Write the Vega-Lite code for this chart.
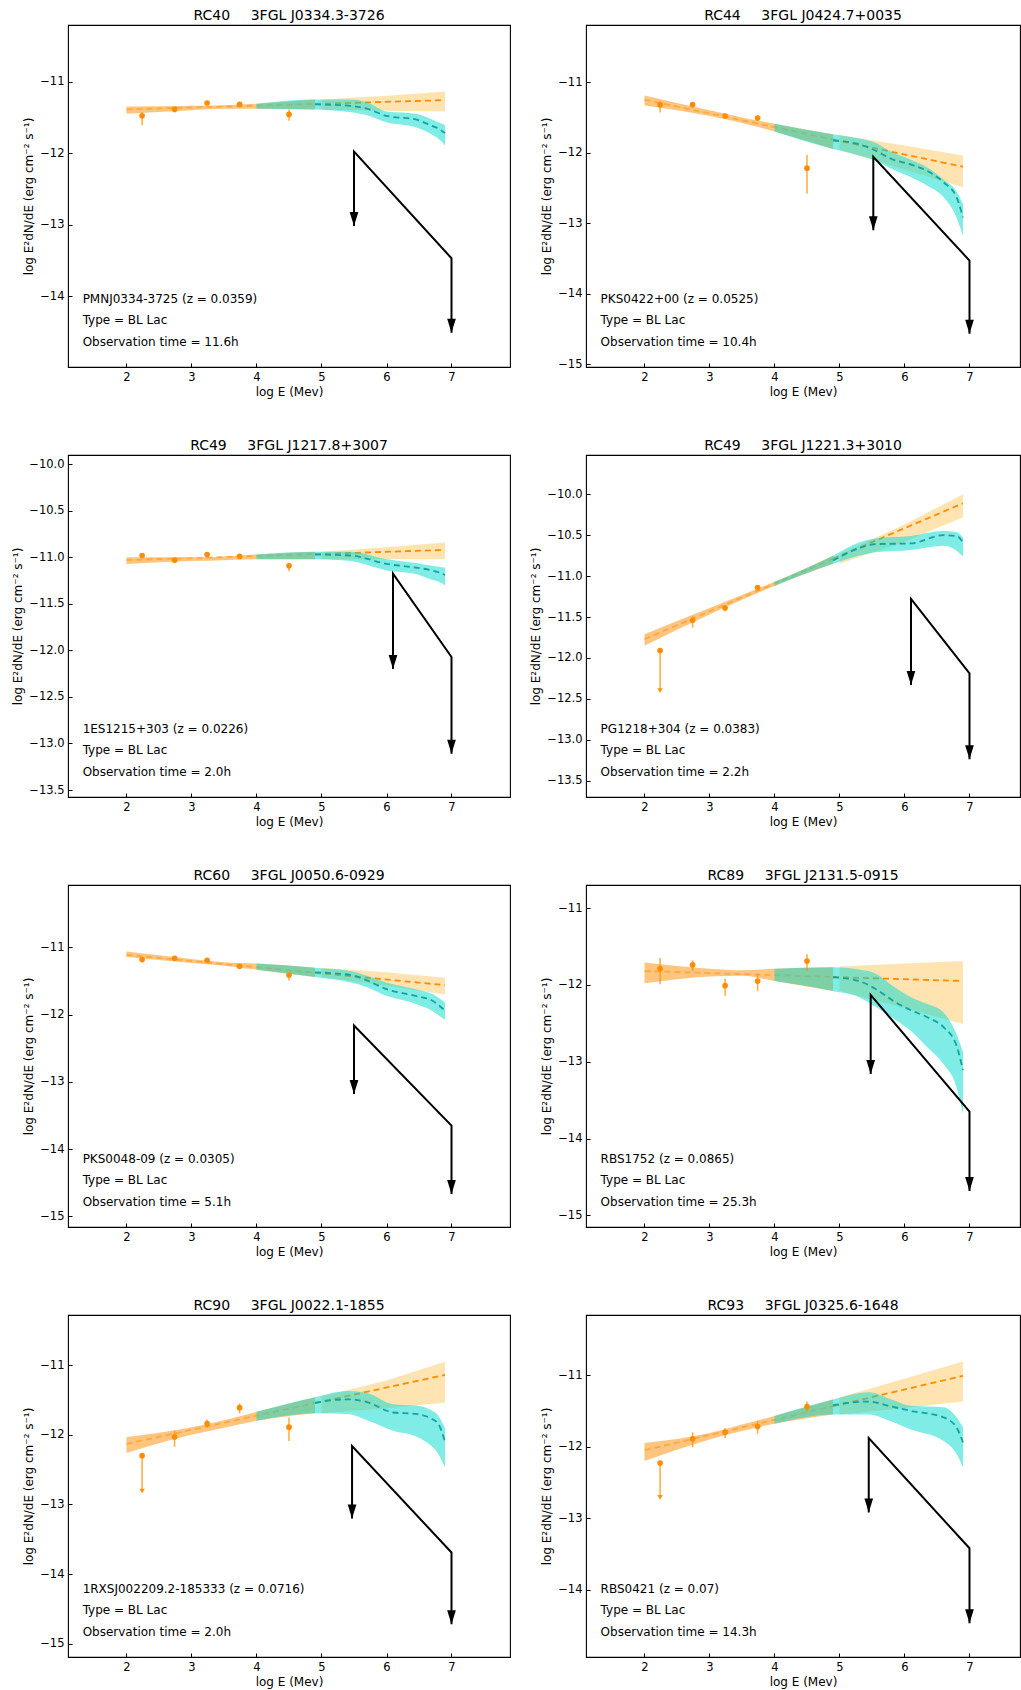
{
"$schema":"https://vega.github.io/schema/vega-lite/v6.json",
"padding":{"left":11,"top":8,"right":0,"bottom":0},
"background":"white",
"datasets":{
"band":[
{"p":1,"s":"o","x":2,"lo":-11.45,"hi":-11.35},{"p":1,"s":"o","x":3,"lo":-11.40,"hi":-11.34},{"p":1,"s":"o","x":3.5,"lo":-11.38,"hi":-11.33},{"p":1,"s":"o","x":4,"lo":-11.38,"hi":-11.31},{"p":1,"s":"o","x":4.9,"lo":-11.39,"hi":-11.25},
{"p":1,"s":"y","x":5,"lo":-11.39,"hi":-11.25},{"p":1,"s":"y","x":6,"lo":-11.41,"hi":-11.20},{"p":1,"s":"y","x":6.9,"lo":-11.42,"hi":-11.14},
{"p":1,"s":"c","x":4,"lo":-11.38,"hi":-11.31},{"p":1,"s":"c","x":4.9,"lo":-11.39,"hi":-11.25},{"p":1,"s":"c","x":5.45,"lo":-11.43,"hi":-11.25},{"p":1,"s":"c","x":5.7,"lo":-11.47,"hi":-11.29},{"p":1,"s":"c","x":6,"lo":-11.57,"hi":-11.42},{"p":1,"s":"c","x":6.45,"lo":-11.64,"hi":-11.45},{"p":1,"s":"c","x":6.7,"lo":-11.74,"hi":-11.53},{"p":1,"s":"c","x":6.8,"lo":-11.80,"hi":-11.57},{"p":1,"s":"c","x":6.9,"lo":-11.89,"hi":-11.61},
{"p":2,"s":"o","x":2,"lo":-11.33,"hi":-11.19},{"p":2,"s":"o","x":3,"lo":-11.48,"hi":-11.40},{"p":2,"s":"o","x":3.5,"lo":-11.58,"hi":-11.50},{"p":2,"s":"o","x":4,"lo":-11.70,"hi":-11.59},{"p":2,"s":"o","x":4.9,"lo":-11.95,"hi":-11.74},
{"p":2,"s":"y","x":5,"lo":-11.96,"hi":-11.75},{"p":2,"s":"y","x":6,"lo":-12.24,"hi":-11.90},{"p":2,"s":"y","x":6.9,"lo":-12.49,"hi":-12.04},
{"p":2,"s":"c","x":4,"lo":-11.70,"hi":-11.59},{"p":2,"s":"c","x":4.9,"lo":-11.95,"hi":-11.74},{"p":2,"s":"c","x":5.3,"lo":-12.04,"hi":-11.80},{"p":2,"s":"c","x":5.55,"lo":-12.11,"hi":-11.86},{"p":2,"s":"c","x":5.8,"lo":-12.23,"hi":-11.99},{"p":2,"s":"c","x":6.1,"lo":-12.35,"hi":-12.10},{"p":2,"s":"c","x":6.35,"lo":-12.47,"hi":-12.21},{"p":2,"s":"c","x":6.6,"lo":-12.63,"hi":-12.38},{"p":2,"s":"c","x":6.8,"lo":-12.92,"hi":-12.55},{"p":2,"s":"c","x":6.9,"lo":-13.18,"hi":-12.73},
{"p":3,"s":"o","x":2,"lo":-11.07,"hi":-11.00},{"p":3,"s":"o","x":3,"lo":-11.04,"hi":-11.00},{"p":3,"s":"o","x":3.5,"lo":-11.03,"hi":-10.99},{"p":3,"s":"o","x":4,"lo":-11.02,"hi":-10.97},{"p":3,"s":"o","x":4.9,"lo":-11.02,"hi":-10.94},
{"p":3,"s":"y","x":5,"lo":-11.02,"hi":-10.94},{"p":3,"s":"y","x":6,"lo":-11.02,"hi":-10.89},{"p":3,"s":"y","x":6.9,"lo":-11.02,"hi":-10.84},
{"p":3,"s":"c","x":4,"lo":-11.02,"hi":-10.97},{"p":3,"s":"c","x":4.9,"lo":-11.02,"hi":-10.94},{"p":3,"s":"c","x":5.45,"lo":-11.04,"hi":-10.94},{"p":3,"s":"c","x":6,"lo":-11.14,"hi":-11.02},{"p":3,"s":"c","x":6.45,"lo":-11.18,"hi":-11.06},{"p":3,"s":"c","x":6.7,"lo":-11.24,"hi":-11.09},{"p":3,"s":"c","x":6.8,"lo":-11.26,"hi":-11.10},{"p":3,"s":"c","x":6.9,"lo":-11.30,"hi":-11.11},
{"p":4,"s":"o","x":2,"lo":-11.85,"hi":-11.71},{"p":4,"s":"o","x":3,"lo":-11.47,"hi":-11.39},{"p":4,"s":"o","x":3.5,"lo":-11.29,"hi":-11.23},{"p":4,"s":"o","x":4,"lo":-11.12,"hi":-11.07},{"p":4,"s":"o","x":4.9,"lo":-10.85,"hi":-10.75},
{"p":4,"s":"y","x":5,"lo":-10.85,"hi":-10.73},{"p":4,"s":"y","x":6,"lo":-10.58,"hi":-10.37},{"p":4,"s":"y","x":6.9,"lo":-10.28,"hi":-10.00},
{"p":4,"s":"c","x":4,"lo":-11.12,"hi":-11.07},{"p":4,"s":"c","x":4.9,"lo":-10.85,"hi":-10.75},{"p":4,"s":"c","x":5.3,"lo":-10.75,"hi":-10.59},{"p":4,"s":"c","x":5.55,"lo":-10.71,"hi":-10.54},{"p":4,"s":"c","x":6.1,"lo":-10.68,"hi":-10.51},{"p":4,"s":"c","x":6.6,"lo":-10.63,"hi":-10.45},{"p":4,"s":"c","x":6.8,"lo":-10.69,"hi":-10.46},{"p":4,"s":"c","x":6.9,"lo":-10.76,"hi":-10.53},
{"p":5,"s":"o","x":2,"lo":-11.14,"hi":-11.06},{"p":5,"s":"o","x":3,"lo":-11.23,"hi":-11.17},{"p":5,"s":"o","x":3.5,"lo":-11.27,"hi":-11.22},{"p":5,"s":"o","x":4,"lo":-11.33,"hi":-11.24},{"p":5,"s":"o","x":4.9,"lo":-11.44,"hi":-11.30},
{"p":5,"s":"y","x":5,"lo":-11.44,"hi":-11.30},{"p":5,"s":"y","x":6,"lo":-11.57,"hi":-11.37},{"p":5,"s":"y","x":6.9,"lo":-11.70,"hi":-11.45},
{"p":5,"s":"c","x":4,"lo":-11.33,"hi":-11.24},{"p":5,"s":"c","x":4.9,"lo":-11.44,"hi":-11.30},{"p":5,"s":"c","x":5.45,"lo":-11.52,"hi":-11.35},{"p":5,"s":"c","x":5.7,"lo":-11.59,"hi":-11.42},{"p":5,"s":"c","x":6,"lo":-11.72,"hi":-11.52},{"p":5,"s":"c","x":6.45,"lo":-11.84,"hi":-11.62},{"p":5,"s":"c","x":6.7,"lo":-11.94,"hi":-11.69},{"p":5,"s":"c","x":6.9,"lo":-12.08,"hi":-11.82},
{"p":6,"s":"o","x":2,"lo":-11.98,"hi":-11.71},{"p":6,"s":"o","x":3,"lo":-11.89,"hi":-11.79},{"p":6,"s":"o","x":3.5,"lo":-11.88,"hi":-11.81},{"p":6,"s":"o","x":4,"lo":-11.95,"hi":-11.79},{"p":6,"s":"o","x":4.9,"lo":-12.08,"hi":-11.77},
{"p":6,"s":"y","x":5,"lo":-12.08,"hi":-11.76},{"p":6,"s":"y","x":6,"lo":-12.30,"hi":-11.72},{"p":6,"s":"y","x":6.9,"lo":-12.51,"hi":-11.69},
{"p":6,"s":"c","x":4,"lo":-11.95,"hi":-11.79},{"p":6,"s":"c","x":4.9,"lo":-12.08,"hi":-11.77},{"p":6,"s":"c","x":5.3,"lo":-12.16,"hi":-11.80},{"p":6,"s":"c","x":5.55,"lo":-12.28,"hi":-11.85},{"p":6,"s":"c","x":5.85,"lo":-12.45,"hi":-12.03},{"p":6,"s":"c","x":6.1,"lo":-12.60,"hi":-12.16},{"p":6,"s":"c","x":6.35,"lo":-12.81,"hi":-12.25},{"p":6,"s":"c","x":6.6,"lo":-13.03,"hi":-12.36},{"p":6,"s":"c","x":6.8,"lo":-13.33,"hi":-12.64},{"p":6,"s":"c","x":6.9,"lo":-13.68,"hi":-12.88},
{"p":7,"s":"o","x":2,"lo":-12.26,"hi":-12.03},{"p":7,"s":"o","x":3,"lo":-12.00,"hi":-11.89},{"p":7,"s":"o","x":3.5,"lo":-11.90,"hi":-11.79},{"p":7,"s":"o","x":4,"lo":-11.80,"hi":-11.67},{"p":7,"s":"o","x":4.9,"lo":-11.69,"hi":-11.46},
{"p":7,"s":"y","x":5,"lo":-11.69,"hi":-11.45},{"p":7,"s":"y","x":6,"lo":-11.62,"hi":-11.22},{"p":7,"s":"y","x":6.9,"lo":-11.54,"hi":-10.95},
{"p":7,"s":"c","x":4,"lo":-11.80,"hi":-11.67},{"p":7,"s":"c","x":4.9,"lo":-11.69,"hi":-11.46},{"p":7,"s":"c","x":5.4,"lo":-11.70,"hi":-11.37},{"p":7,"s":"c","x":5.7,"lo":-11.79,"hi":-11.40},{"p":7,"s":"c","x":6.1,"lo":-11.94,"hi":-11.56},{"p":7,"s":"c","x":6.45,"lo":-12.02,"hi":-11.58},{"p":7,"s":"c","x":6.65,"lo":-12.13,"hi":-11.63},{"p":7,"s":"c","x":6.8,"lo":-12.28,"hi":-11.73},{"p":7,"s":"c","x":6.9,"lo":-12.47,"hi":-11.90},
{"p":8,"s":"o","x":2,"lo":-12.20,"hi":-11.95},{"p":8,"s":"o","x":3,"lo":-11.90,"hi":-11.81},{"p":8,"s":"o","x":3.5,"lo":-11.78,"hi":-11.69},{"p":8,"s":"o","x":4,"lo":-11.68,"hi":-11.57},{"p":8,"s":"o","x":4.9,"lo":-11.55,"hi":-11.34},
{"p":8,"s":"y","x":5,"lo":-11.55,"hi":-11.31},{"p":8,"s":"y","x":6,"lo":-11.46,"hi":-11.05},{"p":8,"s":"y","x":6.9,"lo":-11.37,"hi":-10.81},
{"p":8,"s":"c","x":4,"lo":-11.68,"hi":-11.57},{"p":8,"s":"c","x":4.9,"lo":-11.55,"hi":-11.34},{"p":8,"s":"c","x":5.45,"lo":-11.55,"hi":-11.24},{"p":8,"s":"c","x":5.8,"lo":-11.65,"hi":-11.34},{"p":8,"s":"c","x":6.1,"lo":-11.76,"hi":-11.43},{"p":8,"s":"c","x":6.6,"lo":-11.92,"hi":-11.45},{"p":8,"s":"c","x":6.8,"lo":-12.10,"hi":-11.59},{"p":8,"s":"c","x":6.9,"lo":-12.29,"hi":-11.73}
],
"line":[
{"p":1,"s":"fit","x":2,"y":-11.39},{"p":1,"s":"fit","x":4.9,"y":-11.313},{"p":1,"s":"ext","x":4.9,"y":-11.313},{"p":1,"s":"ext","x":6.9,"y":-11.26},
{"p":1,"s":"ebl","x":4.9,"y":-11.32},{"p":1,"s":"ebl","x":5.45,"y":-11.34},{"p":1,"s":"ebl","x":5.7,"y":-11.38},{"p":1,"s":"ebl","x":6,"y":-11.48},{"p":1,"s":"ebl","x":6.45,"y":-11.53},{"p":1,"s":"ebl","x":6.7,"y":-11.62},{"p":1,"s":"ebl","x":6.8,"y":-11.66},{"p":1,"s":"ebl","x":6.9,"y":-11.72},
{"p":2,"s":"fit","x":2,"y":-11.25},{"p":2,"s":"fit","x":4.9,"y":-11.813},{"p":2,"s":"ext","x":4.9,"y":-11.813},{"p":2,"s":"ext","x":6.9,"y":-12.20},
{"p":2,"s":"ebl","x":4.9,"y":-11.83},{"p":2,"s":"ebl","x":5.3,"y":-11.88},{"p":2,"s":"ebl","x":5.55,"y":-11.97},{"p":2,"s":"ebl","x":5.8,"y":-12.09},{"p":2,"s":"ebl","x":6.1,"y":-12.17},{"p":2,"s":"ebl","x":6.35,"y":-12.26},{"p":2,"s":"ebl","x":6.6,"y":-12.42},{"p":2,"s":"ebl","x":6.8,"y":-12.63},{"p":2,"s":"ebl","x":6.9,"y":-12.92},
{"p":3,"s":"fit","x":2,"y":-11.03},{"p":3,"s":"fit","x":4.9,"y":-10.965},{"p":3,"s":"ext","x":4.9,"y":-10.965},{"p":3,"s":"ext","x":6.9,"y":-10.92},
{"p":3,"s":"ebl","x":4.9,"y":-10.97},{"p":3,"s":"ebl","x":5.45,"y":-10.98},{"p":3,"s":"ebl","x":6,"y":-11.07},{"p":3,"s":"ebl","x":6.45,"y":-11.11},{"p":3,"s":"ebl","x":6.7,"y":-11.14},{"p":3,"s":"ebl","x":6.8,"y":-11.16},{"p":3,"s":"ebl","x":6.9,"y":-11.19},
{"p":4,"s":"fit","x":2,"y":-11.77},{"p":4,"s":"fit","x":4.9,"y":-10.788},{"p":4,"s":"ext","x":4.9,"y":-10.788},{"p":4,"s":"ext","x":6.9,"y":-10.11},
{"p":4,"s":"ebl","x":4.9,"y":-10.81},{"p":4,"s":"ebl","x":5.3,"y":-10.66},{"p":4,"s":"ebl","x":5.55,"y":-10.61},{"p":4,"s":"ebl","x":6.1,"y":-10.60},{"p":4,"s":"ebl","x":6.6,"y":-10.50},{"p":4,"s":"ebl","x":6.8,"y":-10.51},{"p":4,"s":"ebl","x":6.9,"y":-10.59},
{"p":5,"s":"fit","x":2,"y":-11.11},{"p":5,"s":"fit","x":4.9,"y":-11.376},{"p":5,"s":"ext","x":4.9,"y":-11.376},{"p":5,"s":"ext","x":6.9,"y":-11.56},
{"p":5,"s":"ebl","x":4.9,"y":-11.37},{"p":5,"s":"ebl","x":5.45,"y":-11.41},{"p":5,"s":"ebl","x":5.7,"y":-11.49},{"p":5,"s":"ebl","x":6,"y":-11.62},{"p":5,"s":"ebl","x":6.45,"y":-11.72},{"p":5,"s":"ebl","x":6.7,"y":-11.79},{"p":5,"s":"ebl","x":6.9,"y":-11.94},
{"p":6,"s":"fit","x":2,"y":-11.82},{"p":6,"s":"fit","x":4.9,"y":-11.897},{"p":6,"s":"ext","x":4.9,"y":-11.897},{"p":6,"s":"ext","x":6.9,"y":-11.95},
{"p":6,"s":"ebl","x":4.9,"y":-11.90},{"p":6,"s":"ebl","x":5.3,"y":-11.95},{"p":6,"s":"ebl","x":5.55,"y":-12.05},{"p":6,"s":"ebl","x":5.85,"y":-12.22},{"p":6,"s":"ebl","x":6.1,"y":-12.33},{"p":6,"s":"ebl","x":6.35,"y":-12.42},{"p":6,"s":"ebl","x":6.6,"y":-12.55},{"p":6,"s":"ebl","x":6.8,"y":-12.79},{"p":6,"s":"ebl","x":6.9,"y":-13.11},
{"p":7,"s":"fit","x":2,"y":-12.13},{"p":7,"s":"fit","x":4.9,"y":-11.544},{"p":7,"s":"ext","x":4.9,"y":-11.544},{"p":7,"s":"ext","x":6.9,"y":-11.14},
{"p":7,"s":"ebl","x":4.9,"y":-11.54},{"p":7,"s":"ebl","x":5.4,"y":-11.49},{"p":7,"s":"ebl","x":5.7,"y":-11.53},{"p":7,"s":"ebl","x":6.1,"y":-11.68},{"p":7,"s":"ebl","x":6.45,"y":-11.70},{"p":7,"s":"ebl","x":6.65,"y":-11.75},{"p":7,"s":"ebl","x":6.8,"y":-11.85},{"p":7,"s":"ebl","x":6.9,"y":-12.10},
{"p":8,"s":"fit","x":2,"y":-12.05},{"p":8,"s":"fit","x":4.9,"y":-11.435},{"p":8,"s":"ext","x":4.9,"y":-11.435},{"p":8,"s":"ext","x":6.9,"y":-11.01},
{"p":8,"s":"ebl","x":4.9,"y":-11.42},{"p":8,"s":"ebl","x":5.45,"y":-11.37},{"p":8,"s":"ebl","x":5.8,"y":-11.44},{"p":8,"s":"ebl","x":6.1,"y":-11.50},{"p":8,"s":"ebl","x":6.6,"y":-11.59},{"p":8,"s":"ebl","x":6.8,"y":-11.73},{"p":8,"s":"ebl","x":6.9,"y":-11.94}
],
"pts":[
{"p":1,"x":2.24,"y":-11.48,"lo":-11.61,"hi":-11.43},{"p":1,"x":2.74,"y":-11.39,"lo":-11.41,"hi":-11.37},{"p":1,"x":3.24,"y":-11.30,"lo":-11.32,"hi":-11.28},{"p":1,"x":3.74,"y":-11.32,"lo":-11.34,"hi":-11.30},{"p":1,"x":4.5,"y":-11.46,"lo":-11.55,"hi":-11.39},
{"p":2,"x":2.24,"y":-11.32,"lo":-11.43,"hi":-11.27},{"p":2,"x":2.74,"y":-11.32,"lo":-11.34,"hi":-11.30},{"p":2,"x":3.24,"y":-11.48,"lo":-11.50,"hi":-11.46},{"p":2,"x":3.74,"y":-11.51,"lo":-11.54,"hi":-11.47},{"p":2,"x":4.5,"y":-12.22,"lo":-12.58,"hi":-12.03},
{"p":3,"x":2.24,"y":-10.98,"lo":-11.00,"hi":-10.96},{"p":3,"x":2.74,"y":-11.03,"lo":-11.05,"hi":-11.01},{"p":3,"x":3.24,"y":-10.97,"lo":-10.99,"hi":-10.95},{"p":3,"x":3.74,"y":-10.99,"lo":-11.01,"hi":-10.97},{"p":3,"x":4.5,"y":-11.09,"lo":-11.15,"hi":-11.06},
{"p":4,"x":2.74,"y":-11.54,"lo":-11.63,"hi":-11.49},{"p":4,"x":3.24,"y":-11.39,"lo":-11.43,"hi":-11.36},{"p":4,"x":3.74,"y":-11.14,"lo":-11.17,"hi":-11.12},
{"p":5,"x":2.24,"y":-11.18,"lo":-11.22,"hi":-11.14},{"p":5,"x":2.74,"y":-11.16,"lo":-11.18,"hi":-11.14},{"p":5,"x":3.24,"y":-11.19,"lo":-11.21,"hi":-11.17},{"p":5,"x":3.74,"y":-11.28,"lo":-11.31,"hi":-11.25},{"p":5,"x":4.5,"y":-11.41,"lo":-11.49,"hi":-11.37},
{"p":6,"x":2.24,"y":-11.79,"lo":-11.99,"hi":-11.65},{"p":6,"x":2.74,"y":-11.74,"lo":-11.82,"hi":-11.68},{"p":6,"x":3.24,"y":-12.01,"lo":-12.14,"hi":-11.92},{"p":6,"x":3.74,"y":-11.95,"lo":-12.08,"hi":-11.86},{"p":6,"x":4.5,"y":-11.69,"lo":-11.82,"hi":-11.60},
{"p":7,"x":2.74,"y":-12.03,"lo":-12.17,"hi":-11.94},{"p":7,"x":3.24,"y":-11.84,"lo":-11.90,"hi":-11.78},{"p":7,"x":3.74,"y":-11.61,"lo":-11.69,"hi":-11.55},{"p":7,"x":4.5,"y":-11.89,"lo":-12.09,"hi":-11.75},
{"p":8,"x":2.74,"y":-11.89,"lo":-12.01,"hi":-11.80},{"p":8,"x":3.24,"y":-11.80,"lo":-11.88,"hi":-11.74},{"p":8,"x":3.74,"y":-11.72,"lo":-11.82,"hi":-11.64},{"p":8,"x":4.5,"y":-11.44,"lo":-11.52,"hi":-11.37}
],
"ul":[
{"p":4,"x":2.24,"y":-11.91,"tip":-12.40},{"p":7,"x":2.24,"y":-12.30,"tip":-12.81},{"p":8,"x":2.24,"y":-12.23,"tip":-12.71}
],
"sens":[
{"p":1,"o":0,"x":5.5,"y":-13.02},{"p":1,"o":1,"x":5.5,"y":-11.98},{"p":1,"o":2,"x":7,"y":-13.47},{"p":1,"o":3,"x":7,"y":-14.51},
{"p":2,"o":0,"x":5.52,"y":-13.10},{"p":2,"o":1,"x":5.52,"y":-12.06},{"p":2,"o":2,"x":7,"y":-13.53},{"p":2,"o":3,"x":7,"y":-14.57},
{"p":3,"o":0,"x":6.1,"y":-12.20},{"p":3,"o":1,"x":6.1,"y":-11.175},{"p":3,"o":2,"x":7,"y":-12.07},{"p":3,"o":3,"x":7,"y":-13.11},
{"p":4,"o":0,"x":6.1,"y":-12.33},{"p":4,"o":1,"x":6.1,"y":-11.28},{"p":4,"o":2,"x":7,"y":-12.19},{"p":4,"o":3,"x":7,"y":-13.24},
{"p":5,"o":0,"x":5.5,"y":-13.18},{"p":5,"o":1,"x":5.5,"y":-12.16},{"p":5,"o":2,"x":7,"y":-13.65},{"p":5,"o":3,"x":7,"y":-14.67},
{"p":6,"o":0,"x":5.48,"y":-13.16},{"p":6,"o":1,"x":5.48,"y":-12.13},{"p":6,"o":2,"x":7,"y":-13.65},{"p":6,"o":3,"x":7,"y":-14.68},
{"p":7,"o":0,"x":5.47,"y":-13.20},{"p":7,"o":1,"x":5.47,"y":-12.16},{"p":7,"o":2,"x":7,"y":-13.69},{"p":7,"o":3,"x":7,"y":-14.72},
{"p":8,"o":0,"x":5.45,"y":-12.92},{"p":8,"o":1,"x":5.45,"y":-11.88},{"p":8,"o":2,"x":7,"y":-13.42},{"p":8,"o":3,"x":7,"y":-14.47}
],
"txt":[
{"p":1,"x":1.325,"y":-14.034,"t":"PMNJ0334-3725 (z = 0.0359)"},{"p":1,"x":1.325,"y":-14.337,"t":"Type = BL Lac"},{"p":1,"x":1.325,"y":-14.636,"t":"Observation time = 11.6h"},
{"p":2,"x":1.325,"y":-14.07,"t":"PKS0422+00 (z = 0.0525)"},{"p":2,"x":1.325,"y":-14.377,"t":"Type = BL Lac"},{"p":2,"x":1.325,"y":-14.681,"t":"Observation time = 10.4h"},
{"p":3,"x":1.325,"y":-12.84,"t":"1ES1215+303 (z = 0.0226)"},{"p":3,"x":1.325,"y":-13.073,"t":"Type = BL Lac"},{"p":3,"x":1.325,"y":-13.303,"t":"Observation time = 2.0h"},
{"p":4,"x":1.325,"y":-12.864,"t":"PG1218+304 (z = 0.0383)"},{"p":4,"x":1.325,"y":-13.129,"t":"Type = BL Lac"},{"p":4,"x":1.325,"y":-13.39,"t":"Observation time = 2.2h"},
{"p":5,"x":1.325,"y":-14.142,"t":"PKS0048-09 (z = 0.0305)"},{"p":5,"x":1.325,"y":-14.465,"t":"Type = BL Lac"},{"p":5,"x":1.325,"y":-14.783,"t":"Observation time = 5.1h"},
{"p":6,"x":1.325,"y":-14.26,"t":"RBS1752 (z = 0.0865)"},{"p":6,"x":1.325,"y":-14.542,"t":"Type = BL Lac"},{"p":6,"x":1.325,"y":-14.82,"t":"Observation time = 25.3h"},
{"p":7,"x":1.325,"y":-14.208,"t":"1RXSJ002209.2-185333 (z = 0.0716)"},{"p":7,"x":1.325,"y":-14.519,"t":"Type = BL Lac"},{"p":7,"x":1.325,"y":-14.826,"t":"Observation time = 2.0h"},
{"p":8,"x":1.325,"y":-13.984,"t":"RBS0421 (z = 0.07)"},{"p":8,"x":1.325,"y":-14.287,"t":"Type = BL Lac"},{"p":8,"x":1.325,"y":-14.586,"t":"Observation time = 14.3h"}
]
},
"columns":2,
"align":"each",
"bounds":"flush",
"spacing":{"row":88,"column":76},
"concat":[
{"width":442,"height":342,"title":{"text":"RC40\u00a0\u00a0\u00a0\u00a0\u20093FGL J0334.3-3726"},
"encoding":{"x":{"field":"x","type":"quantitative","scale":{"domain":[1.1,7.9],"nice":false,"zero":false},"axis":{"values":[2,3,4,5,6,7],"format":"d","title":"log E (Mev)"}},
"y":{"field":"y","type":"quantitative","scale":{"domain":[-14.99,-10.21],"nice":false,"zero":false},"axis":{"values":[-14,-13,-12,-11],"format":"d","title":"log E\u00b2dN/dE (erg cm\u207b\u00b2 s\u207b\u00b9)"}}},
"layer":[
{"data":{"name":"band"},"transform":[{"filter":"datum.p==1&&datum.s=='y'"}],"mark":{"type":"area","color":"#FFA500","opacity":0.3},"encoding":{"y":{"field":"lo","type":"quantitative"},"y2":{"field":"hi"}}},
{"data":{"name":"line"},"transform":[{"filter":"datum.p==1&&datum.s!='ebl'"}],"mark":{"type":"line","color":"#FF8C00","strokeDash":[6,4],"strokeWidth":1.8},"encoding":{"detail":{"field":"s"},"opacity":{"condition":{"test":"datum.s=='fit'","value":0.5},"value":1}}},
{"data":{"name":"band"},"transform":[{"filter":"datum.p==1&&datum.s=='o'"}],"mark":{"type":"area","color":"#FF8C00","opacity":0.5,"interpolate":"monotone"},"encoding":{"y":{"field":"lo","type":"quantitative"},"y2":{"field":"hi"}}},
{"data":{"name":"band"},"transform":[{"filter":"datum.p==1&&datum.s=='c'"}],"mark":{"type":"area","color":"#00D9CD","opacity":0.5,"interpolate":"monotone"},"encoding":{"y":{"field":"lo","type":"quantitative"},"y2":{"field":"hi"}}},
{"data":{"name":"line"},"transform":[{"filter":"datum.p==1&&datum.s=='ebl'"}],"mark":{"type":"line","color":"#14A3A3","strokeDash":[6,4],"strokeWidth":1.8,"interpolate":"monotone"}},
{"data":{"name":"pts"},"transform":[{"filter":"datum.p==1"}],"mark":{"type":"rule","color":"#FF8C00","strokeWidth":1.5,"opacity":0.75},"encoding":{"y":{"field":"lo","type":"quantitative"},"y2":{"field":"hi"}}},
{"data":{"name":"pts"},"transform":[{"filter":"datum.p==1"}],"mark":{"type":"circle","color":"#FF8C00","size":32,"opacity":1}},
{"data":{"name":"sens"},"transform":[{"filter":"datum.p==1"}],"mark":{"type":"line","color":"#000000","strokeWidth":2},"encoding":{"order":{"field":"o","type":"quantitative"}}},
{"data":{"name":"sens"},"transform":[{"filter":"datum.p==1&&(datum.o==0||datum.o==3)"}],"mark":{"type":"point","shape":"M-0.62,-2L0.62,-2L0,0Z","filled":true,"color":"#000000","size":196,"opacity":1}},
{"data":{"name":"txt"},"transform":[{"filter":"datum.p==1"}],"mark":{"type":"text","align":"left","baseline":"middle","fontSize":12,"color":"#000000"},"encoding":{"text":{"field":"t"}}}
]},
{"width":434,"height":342,"title":{"text":"RC44\u00a0\u00a0\u00a0\u00a0\u20093FGL J0424.7+0035"},
"encoding":{"x":{"field":"x","type":"quantitative","scale":{"domain":[1.1,7.777],"nice":false,"zero":false},"axis":{"values":[2,3,4,5,6,7],"format":"d","title":"log E (Mev)"}},
"y":{"field":"y","type":"quantitative","scale":{"domain":[-15.04,-10.19],"nice":false,"zero":false},"axis":{"values":[-15,-14,-13,-12,-11],"format":"d","title":"log E\u00b2dN/dE (erg cm\u207b\u00b2 s\u207b\u00b9)"}}},
"layer":[
{"data":{"name":"band"},"transform":[{"filter":"datum.p==2&&datum.s=='y'"}],"mark":{"type":"area","color":"#FFA500","opacity":0.3},"encoding":{"y":{"field":"lo","type":"quantitative"},"y2":{"field":"hi"}}},
{"data":{"name":"line"},"transform":[{"filter":"datum.p==2&&datum.s!='ebl'"}],"mark":{"type":"line","color":"#FF8C00","strokeDash":[6,4],"strokeWidth":1.8},"encoding":{"detail":{"field":"s"},"opacity":{"condition":{"test":"datum.s=='fit'","value":0.5},"value":1}}},
{"data":{"name":"band"},"transform":[{"filter":"datum.p==2&&datum.s=='o'"}],"mark":{"type":"area","color":"#FF8C00","opacity":0.5,"interpolate":"monotone"},"encoding":{"y":{"field":"lo","type":"quantitative"},"y2":{"field":"hi"}}},
{"data":{"name":"band"},"transform":[{"filter":"datum.p==2&&datum.s=='c'"}],"mark":{"type":"area","color":"#00D9CD","opacity":0.5,"interpolate":"monotone"},"encoding":{"y":{"field":"lo","type":"quantitative"},"y2":{"field":"hi"}}},
{"data":{"name":"line"},"transform":[{"filter":"datum.p==2&&datum.s=='ebl'"}],"mark":{"type":"line","color":"#14A3A3","strokeDash":[6,4],"strokeWidth":1.8,"interpolate":"monotone"}},
{"data":{"name":"pts"},"transform":[{"filter":"datum.p==2"}],"mark":{"type":"rule","color":"#FF8C00","strokeWidth":1.5,"opacity":0.75},"encoding":{"y":{"field":"lo","type":"quantitative"},"y2":{"field":"hi"}}},
{"data":{"name":"pts"},"transform":[{"filter":"datum.p==2"}],"mark":{"type":"circle","color":"#FF8C00","size":32,"opacity":1}},
{"data":{"name":"sens"},"transform":[{"filter":"datum.p==2"}],"mark":{"type":"line","color":"#000000","strokeWidth":2},"encoding":{"order":{"field":"o","type":"quantitative"}}},
{"data":{"name":"sens"},"transform":[{"filter":"datum.p==2&&(datum.o==0||datum.o==3)"}],"mark":{"type":"point","shape":"M-0.62,-2L0.62,-2L0,0Z","filled":true,"color":"#000000","size":196,"opacity":1}},
{"data":{"name":"txt"},"transform":[{"filter":"datum.p==2"}],"mark":{"type":"text","align":"left","baseline":"middle","fontSize":12,"color":"#000000"},"encoding":{"text":{"field":"t"}}}
]},
{"width":442,"height":342,"title":{"text":"RC49\u00a0\u00a0\u00a0\u00a0\u20093FGL J1217.8+3007"},
"encoding":{"x":{"field":"x","type":"quantitative","scale":{"domain":[1.1,7.9],"nice":false,"zero":false},"axis":{"values":[2,3,4,5,6,7],"format":"d","title":"log E (Mev)"}},
"y":{"field":"y","type":"quantitative","scale":{"domain":[-13.575,-9.9],"nice":false,"zero":false},"axis":{"values":[-13.5,-13,-12.5,-12,-11.5,-11,-10.5,-10],"format":".1f","title":"log E\u00b2dN/dE (erg cm\u207b\u00b2 s\u207b\u00b9)"}}},
"layer":[
{"data":{"name":"band"},"transform":[{"filter":"datum.p==3&&datum.s=='y'"}],"mark":{"type":"area","color":"#FFA500","opacity":0.3},"encoding":{"y":{"field":"lo","type":"quantitative"},"y2":{"field":"hi"}}},
{"data":{"name":"line"},"transform":[{"filter":"datum.p==3&&datum.s!='ebl'"}],"mark":{"type":"line","color":"#FF8C00","strokeDash":[6,4],"strokeWidth":1.8},"encoding":{"detail":{"field":"s"},"opacity":{"condition":{"test":"datum.s=='fit'","value":0.5},"value":1}}},
{"data":{"name":"band"},"transform":[{"filter":"datum.p==3&&datum.s=='o'"}],"mark":{"type":"area","color":"#FF8C00","opacity":0.5,"interpolate":"monotone"},"encoding":{"y":{"field":"lo","type":"quantitative"},"y2":{"field":"hi"}}},
{"data":{"name":"band"},"transform":[{"filter":"datum.p==3&&datum.s=='c'"}],"mark":{"type":"area","color":"#00D9CD","opacity":0.5,"interpolate":"monotone"},"encoding":{"y":{"field":"lo","type":"quantitative"},"y2":{"field":"hi"}}},
{"data":{"name":"line"},"transform":[{"filter":"datum.p==3&&datum.s=='ebl'"}],"mark":{"type":"line","color":"#14A3A3","strokeDash":[6,4],"strokeWidth":1.8,"interpolate":"monotone"}},
{"data":{"name":"pts"},"transform":[{"filter":"datum.p==3"}],"mark":{"type":"rule","color":"#FF8C00","strokeWidth":1.5,"opacity":0.75},"encoding":{"y":{"field":"lo","type":"quantitative"},"y2":{"field":"hi"}}},
{"data":{"name":"pts"},"transform":[{"filter":"datum.p==3"}],"mark":{"type":"circle","color":"#FF8C00","size":32,"opacity":1}},
{"data":{"name":"sens"},"transform":[{"filter":"datum.p==3"}],"mark":{"type":"line","color":"#000000","strokeWidth":2},"encoding":{"order":{"field":"o","type":"quantitative"}}},
{"data":{"name":"sens"},"transform":[{"filter":"datum.p==3&&(datum.o==0||datum.o==3)"}],"mark":{"type":"point","shape":"M-0.62,-2L0.62,-2L0,0Z","filled":true,"color":"#000000","size":196,"opacity":1}},
{"data":{"name":"txt"},"transform":[{"filter":"datum.p==3"}],"mark":{"type":"text","align":"left","baseline":"middle","fontSize":12,"color":"#000000"},"encoding":{"text":{"field":"t"}}}
]},
{"width":434,"height":342,"title":{"text":"RC49\u00a0\u00a0\u00a0\u00a0\u20093FGL J1221.3+3010"},
"encoding":{"x":{"field":"x","type":"quantitative","scale":{"domain":[1.1,7.777],"nice":false,"zero":false},"axis":{"values":[2,3,4,5,6,7],"format":"d","title":"log E (Mev)"}},
"y":{"field":"y","type":"quantitative","scale":{"domain":[-13.7,-9.52],"nice":false,"zero":false},"axis":{"values":[-13.5,-13,-12.5,-12,-11.5,-11,-10.5,-10],"format":".1f","title":"log E\u00b2dN/dE (erg cm\u207b\u00b2 s\u207b\u00b9)"}}},
"layer":[
{"data":{"name":"band"},"transform":[{"filter":"datum.p==4&&datum.s=='y'"}],"mark":{"type":"area","color":"#FFA500","opacity":0.3},"encoding":{"y":{"field":"lo","type":"quantitative"},"y2":{"field":"hi"}}},
{"data":{"name":"line"},"transform":[{"filter":"datum.p==4&&datum.s!='ebl'"}],"mark":{"type":"line","color":"#FF8C00","strokeDash":[6,4],"strokeWidth":1.8},"encoding":{"detail":{"field":"s"},"opacity":{"condition":{"test":"datum.s=='fit'","value":0.5},"value":1}}},
{"data":{"name":"band"},"transform":[{"filter":"datum.p==4&&datum.s=='o'"}],"mark":{"type":"area","color":"#FF8C00","opacity":0.5,"interpolate":"monotone"},"encoding":{"y":{"field":"lo","type":"quantitative"},"y2":{"field":"hi"}}},
{"data":{"name":"band"},"transform":[{"filter":"datum.p==4&&datum.s=='c'"}],"mark":{"type":"area","color":"#00D9CD","opacity":0.5,"interpolate":"monotone"},"encoding":{"y":{"field":"lo","type":"quantitative"},"y2":{"field":"hi"}}},
{"data":{"name":"line"},"transform":[{"filter":"datum.p==4&&datum.s=='ebl'"}],"mark":{"type":"line","color":"#14A3A3","strokeDash":[6,4],"strokeWidth":1.8,"interpolate":"monotone"}},
{"data":{"name":"pts"},"transform":[{"filter":"datum.p==4"}],"mark":{"type":"rule","color":"#FF8C00","strokeWidth":1.5,"opacity":0.75},"encoding":{"y":{"field":"lo","type":"quantitative"},"y2":{"field":"hi"}}},
{"data":{"name":"pts"},"transform":[{"filter":"datum.p==4"}],"mark":{"type":"circle","color":"#FF8C00","size":32,"opacity":1}},
{"data":{"name":"ul"},"transform":[{"filter":"datum.p==4"}],"mark":{"type":"rule","color":"#FF8C00","strokeWidth":1.5,"opacity":0.75},"encoding":{"y2":{"field":"tip"}}},
{"data":{"name":"ul"},"transform":[{"filter":"datum.p==4"}],"mark":{"type":"circle","color":"#FF8C00","size":32,"opacity":1}},
{"data":{"name":"ul"},"transform":[{"filter":"datum.p==4"}],"mark":{"type":"point","shape":"triangle-down","filled":true,"color":"#FF8C00","size":30,"opacity":0.9},"encoding":{"y":{"field":"tip","type":"quantitative"}}},
{"data":{"name":"sens"},"transform":[{"filter":"datum.p==4"}],"mark":{"type":"line","color":"#000000","strokeWidth":2},"encoding":{"order":{"field":"o","type":"quantitative"}}},
{"data":{"name":"sens"},"transform":[{"filter":"datum.p==4&&(datum.o==0||datum.o==3)"}],"mark":{"type":"point","shape":"M-0.62,-2L0.62,-2L0,0Z","filled":true,"color":"#000000","size":196,"opacity":1}},
{"data":{"name":"txt"},"transform":[{"filter":"datum.p==4"}],"mark":{"type":"text","align":"left","baseline":"middle","fontSize":12,"color":"#000000"},"encoding":{"text":{"field":"t"}}}
]},
{"width":442,"height":342,"title":{"text":"RC60\u00a0\u00a0\u00a0\u00a0\u20093FGL J0050.6-0929"},
"encoding":{"x":{"field":"x","type":"quantitative","scale":{"domain":[1.1,7.9],"nice":false,"zero":false},"axis":{"values":[2,3,4,5,6,7],"format":"d","title":"log E (Mev)"}},
"y":{"field":"y","type":"quantitative","scale":{"domain":[-15.16,-10.07],"nice":false,"zero":false},"axis":{"values":[-15,-14,-13,-12,-11],"format":"d","title":"log E\u00b2dN/dE (erg cm\u207b\u00b2 s\u207b\u00b9)"}}},
"layer":[
{"data":{"name":"band"},"transform":[{"filter":"datum.p==5&&datum.s=='y'"}],"mark":{"type":"area","color":"#FFA500","opacity":0.3},"encoding":{"y":{"field":"lo","type":"quantitative"},"y2":{"field":"hi"}}},
{"data":{"name":"line"},"transform":[{"filter":"datum.p==5&&datum.s!='ebl'"}],"mark":{"type":"line","color":"#FF8C00","strokeDash":[6,4],"strokeWidth":1.8},"encoding":{"detail":{"field":"s"},"opacity":{"condition":{"test":"datum.s=='fit'","value":0.5},"value":1}}},
{"data":{"name":"band"},"transform":[{"filter":"datum.p==5&&datum.s=='o'"}],"mark":{"type":"area","color":"#FF8C00","opacity":0.5,"interpolate":"monotone"},"encoding":{"y":{"field":"lo","type":"quantitative"},"y2":{"field":"hi"}}},
{"data":{"name":"band"},"transform":[{"filter":"datum.p==5&&datum.s=='c'"}],"mark":{"type":"area","color":"#00D9CD","opacity":0.5,"interpolate":"monotone"},"encoding":{"y":{"field":"lo","type":"quantitative"},"y2":{"field":"hi"}}},
{"data":{"name":"line"},"transform":[{"filter":"datum.p==5&&datum.s=='ebl'"}],"mark":{"type":"line","color":"#14A3A3","strokeDash":[6,4],"strokeWidth":1.8,"interpolate":"monotone"}},
{"data":{"name":"pts"},"transform":[{"filter":"datum.p==5"}],"mark":{"type":"rule","color":"#FF8C00","strokeWidth":1.5,"opacity":0.75},"encoding":{"y":{"field":"lo","type":"quantitative"},"y2":{"field":"hi"}}},
{"data":{"name":"pts"},"transform":[{"filter":"datum.p==5"}],"mark":{"type":"circle","color":"#FF8C00","size":32,"opacity":1}},
{"data":{"name":"sens"},"transform":[{"filter":"datum.p==5"}],"mark":{"type":"line","color":"#000000","strokeWidth":2},"encoding":{"order":{"field":"o","type":"quantitative"}}},
{"data":{"name":"sens"},"transform":[{"filter":"datum.p==5&&(datum.o==0||datum.o==3)"}],"mark":{"type":"point","shape":"M-0.62,-2L0.62,-2L0,0Z","filled":true,"color":"#000000","size":196,"opacity":1}},
{"data":{"name":"txt"},"transform":[{"filter":"datum.p==5"}],"mark":{"type":"text","align":"left","baseline":"middle","fontSize":12,"color":"#000000"},"encoding":{"text":{"field":"t"}}}
]},
{"width":434,"height":342,"title":{"text":"RC89\u00a0\u00a0\u00a0\u00a0\u20093FGL J2131.5-0915"},
"encoding":{"x":{"field":"x","type":"quantitative","scale":{"domain":[1.1,7.777],"nice":false,"zero":false},"axis":{"values":[2,3,4,5,6,7],"format":"d","title":"log E (Mev)"}},
"y":{"field":"y","type":"quantitative","scale":{"domain":[-15.15,-10.7],"nice":false,"zero":false},"axis":{"values":[-15,-14,-13,-12,-11],"format":"d","title":"log E\u00b2dN/dE (erg cm\u207b\u00b2 s\u207b\u00b9)"}}},
"layer":[
{"data":{"name":"band"},"transform":[{"filter":"datum.p==6&&datum.s=='y'"}],"mark":{"type":"area","color":"#FFA500","opacity":0.3},"encoding":{"y":{"field":"lo","type":"quantitative"},"y2":{"field":"hi"}}},
{"data":{"name":"line"},"transform":[{"filter":"datum.p==6&&datum.s!='ebl'"}],"mark":{"type":"line","color":"#FF8C00","strokeDash":[6,4],"strokeWidth":1.8},"encoding":{"detail":{"field":"s"},"opacity":{"condition":{"test":"datum.s=='fit'","value":0.5},"value":1}}},
{"data":{"name":"band"},"transform":[{"filter":"datum.p==6&&datum.s=='o'"}],"mark":{"type":"area","color":"#FF8C00","opacity":0.5,"interpolate":"monotone"},"encoding":{"y":{"field":"lo","type":"quantitative"},"y2":{"field":"hi"}}},
{"data":{"name":"band"},"transform":[{"filter":"datum.p==6&&datum.s=='c'"}],"mark":{"type":"area","color":"#00D9CD","opacity":0.5,"interpolate":"monotone"},"encoding":{"y":{"field":"lo","type":"quantitative"},"y2":{"field":"hi"}}},
{"data":{"name":"line"},"transform":[{"filter":"datum.p==6&&datum.s=='ebl'"}],"mark":{"type":"line","color":"#14A3A3","strokeDash":[6,4],"strokeWidth":1.8,"interpolate":"monotone"}},
{"data":{"name":"pts"},"transform":[{"filter":"datum.p==6"}],"mark":{"type":"rule","color":"#FF8C00","strokeWidth":1.5,"opacity":0.75},"encoding":{"y":{"field":"lo","type":"quantitative"},"y2":{"field":"hi"}}},
{"data":{"name":"pts"},"transform":[{"filter":"datum.p==6"}],"mark":{"type":"circle","color":"#FF8C00","size":32,"opacity":1}},
{"data":{"name":"sens"},"transform":[{"filter":"datum.p==6"}],"mark":{"type":"line","color":"#000000","strokeWidth":2},"encoding":{"order":{"field":"o","type":"quantitative"}}},
{"data":{"name":"sens"},"transform":[{"filter":"datum.p==6&&(datum.o==0||datum.o==3)"}],"mark":{"type":"point","shape":"M-0.62,-2L0.62,-2L0,0Z","filled":true,"color":"#000000","size":196,"opacity":1}},
{"data":{"name":"txt"},"transform":[{"filter":"datum.p==6"}],"mark":{"type":"text","align":"left","baseline":"middle","fontSize":12,"color":"#000000"},"encoding":{"text":{"field":"t"}}}
]},
{"width":442,"height":342,"title":{"text":"RC90\u00a0\u00a0\u00a0\u00a0\u20093FGL J0022.1-1855"},
"encoding":{"x":{"field":"x","type":"quantitative","scale":{"domain":[1.1,7.9],"nice":false,"zero":false},"axis":{"values":[2,3,4,5,6,7],"format":"d","title":"log E (Mev)"}},
"y":{"field":"y","type":"quantitative","scale":{"domain":[-15.19,-10.28],"nice":false,"zero":false},"axis":{"values":[-15,-14,-13,-12,-11],"format":"d","title":"log E\u00b2dN/dE (erg cm\u207b\u00b2 s\u207b\u00b9)"}}},
"layer":[
{"data":{"name":"band"},"transform":[{"filter":"datum.p==7&&datum.s=='y'"}],"mark":{"type":"area","color":"#FFA500","opacity":0.3},"encoding":{"y":{"field":"lo","type":"quantitative"},"y2":{"field":"hi"}}},
{"data":{"name":"line"},"transform":[{"filter":"datum.p==7&&datum.s!='ebl'"}],"mark":{"type":"line","color":"#FF8C00","strokeDash":[6,4],"strokeWidth":1.8},"encoding":{"detail":{"field":"s"},"opacity":{"condition":{"test":"datum.s=='fit'","value":0.5},"value":1}}},
{"data":{"name":"band"},"transform":[{"filter":"datum.p==7&&datum.s=='o'"}],"mark":{"type":"area","color":"#FF8C00","opacity":0.5,"interpolate":"monotone"},"encoding":{"y":{"field":"lo","type":"quantitative"},"y2":{"field":"hi"}}},
{"data":{"name":"band"},"transform":[{"filter":"datum.p==7&&datum.s=='c'"}],"mark":{"type":"area","color":"#00D9CD","opacity":0.5,"interpolate":"monotone"},"encoding":{"y":{"field":"lo","type":"quantitative"},"y2":{"field":"hi"}}},
{"data":{"name":"line"},"transform":[{"filter":"datum.p==7&&datum.s=='ebl'"}],"mark":{"type":"line","color":"#14A3A3","strokeDash":[6,4],"strokeWidth":1.8,"interpolate":"monotone"}},
{"data":{"name":"pts"},"transform":[{"filter":"datum.p==7"}],"mark":{"type":"rule","color":"#FF8C00","strokeWidth":1.5,"opacity":0.75},"encoding":{"y":{"field":"lo","type":"quantitative"},"y2":{"field":"hi"}}},
{"data":{"name":"pts"},"transform":[{"filter":"datum.p==7"}],"mark":{"type":"circle","color":"#FF8C00","size":32,"opacity":1}},
{"data":{"name":"ul"},"transform":[{"filter":"datum.p==7"}],"mark":{"type":"rule","color":"#FF8C00","strokeWidth":1.5,"opacity":0.75},"encoding":{"y2":{"field":"tip"}}},
{"data":{"name":"ul"},"transform":[{"filter":"datum.p==7"}],"mark":{"type":"circle","color":"#FF8C00","size":32,"opacity":1}},
{"data":{"name":"ul"},"transform":[{"filter":"datum.p==7"}],"mark":{"type":"point","shape":"triangle-down","filled":true,"color":"#FF8C00","size":30,"opacity":0.9},"encoding":{"y":{"field":"tip","type":"quantitative"}}},
{"data":{"name":"sens"},"transform":[{"filter":"datum.p==7"}],"mark":{"type":"line","color":"#000000","strokeWidth":2},"encoding":{"order":{"field":"o","type":"quantitative"}}},
{"data":{"name":"sens"},"transform":[{"filter":"datum.p==7&&(datum.o==0||datum.o==3)"}],"mark":{"type":"point","shape":"M-0.62,-2L0.62,-2L0,0Z","filled":true,"color":"#000000","size":196,"opacity":1}},
{"data":{"name":"txt"},"transform":[{"filter":"datum.p==7"}],"mark":{"type":"text","align":"left","baseline":"middle","fontSize":12,"color":"#000000"},"encoding":{"text":{"field":"t"}}}
]},
{"width":434,"height":342,"title":{"text":"RC93\u00a0\u00a0\u00a0\u00a0\u20093FGL J0325.6-1648"},
"encoding":{"x":{"field":"x","type":"quantitative","scale":{"domain":[1.1,7.777],"nice":false,"zero":false},"axis":{"values":[2,3,4,5,6,7],"format":"d","title":"log E (Mev)"}},
"y":{"field":"y","type":"quantitative","scale":{"domain":[-14.94,-10.16],"nice":false,"zero":false},"axis":{"values":[-14,-13,-12,-11],"format":"d","title":"log E\u00b2dN/dE (erg cm\u207b\u00b2 s\u207b\u00b9)"}}},
"layer":[
{"data":{"name":"band"},"transform":[{"filter":"datum.p==8&&datum.s=='y'"}],"mark":{"type":"area","color":"#FFA500","opacity":0.3},"encoding":{"y":{"field":"lo","type":"quantitative"},"y2":{"field":"hi"}}},
{"data":{"name":"line"},"transform":[{"filter":"datum.p==8&&datum.s!='ebl'"}],"mark":{"type":"line","color":"#FF8C00","strokeDash":[6,4],"strokeWidth":1.8},"encoding":{"detail":{"field":"s"},"opacity":{"condition":{"test":"datum.s=='fit'","value":0.5},"value":1}}},
{"data":{"name":"band"},"transform":[{"filter":"datum.p==8&&datum.s=='o'"}],"mark":{"type":"area","color":"#FF8C00","opacity":0.5,"interpolate":"monotone"},"encoding":{"y":{"field":"lo","type":"quantitative"},"y2":{"field":"hi"}}},
{"data":{"name":"band"},"transform":[{"filter":"datum.p==8&&datum.s=='c'"}],"mark":{"type":"area","color":"#00D9CD","opacity":0.5,"interpolate":"monotone"},"encoding":{"y":{"field":"lo","type":"quantitative"},"y2":{"field":"hi"}}},
{"data":{"name":"line"},"transform":[{"filter":"datum.p==8&&datum.s=='ebl'"}],"mark":{"type":"line","color":"#14A3A3","strokeDash":[6,4],"strokeWidth":1.8,"interpolate":"monotone"}},
{"data":{"name":"pts"},"transform":[{"filter":"datum.p==8"}],"mark":{"type":"rule","color":"#FF8C00","strokeWidth":1.5,"opacity":0.75},"encoding":{"y":{"field":"lo","type":"quantitative"},"y2":{"field":"hi"}}},
{"data":{"name":"pts"},"transform":[{"filter":"datum.p==8"}],"mark":{"type":"circle","color":"#FF8C00","size":32,"opacity":1}},
{"data":{"name":"ul"},"transform":[{"filter":"datum.p==8"}],"mark":{"type":"rule","color":"#FF8C00","strokeWidth":1.5,"opacity":0.75},"encoding":{"y2":{"field":"tip"}}},
{"data":{"name":"ul"},"transform":[{"filter":"datum.p==8"}],"mark":{"type":"circle","color":"#FF8C00","size":32,"opacity":1}},
{"data":{"name":"ul"},"transform":[{"filter":"datum.p==8"}],"mark":{"type":"point","shape":"triangle-down","filled":true,"color":"#FF8C00","size":30,"opacity":0.9},"encoding":{"y":{"field":"tip","type":"quantitative"}}},
{"data":{"name":"sens"},"transform":[{"filter":"datum.p==8"}],"mark":{"type":"line","color":"#000000","strokeWidth":2},"encoding":{"order":{"field":"o","type":"quantitative"}}},
{"data":{"name":"sens"},"transform":[{"filter":"datum.p==8&&(datum.o==0||datum.o==3)"}],"mark":{"type":"point","shape":"M-0.62,-2L0.62,-2L0,0Z","filled":true,"color":"#000000","size":196,"opacity":1}},
{"data":{"name":"txt"},"transform":[{"filter":"datum.p==8"}],"mark":{"type":"text","align":"left","baseline":"middle","fontSize":12,"color":"#000000"},"encoding":{"text":{"field":"t"}}}
]}
],
"config":{
"font":"DejaVu Sans",
"view":{"stroke":"#000000","strokeWidth":1.1},
"axis":{"grid":false,"domain":false,"tickSize":-4,"tickColor":"#000000","tickWidth":1,"labelFont":"DejaVu Sans","labelFontSize":11.5,"labelColor":"#000000","labelPadding":8,"labelFlush":false,"labelOverlap":false,"titleFont":"DejaVu Sans","titleFontSize":12,"titleFontWeight":"normal","titleColor":"#000000","titlePadding":4},
"title":{"font":"DejaVu Sans","fontSize":14,"fontWeight":"normal","color":"#000000","offset":2,"frame":"group","anchor":"middle"},
"text":{"font":"DejaVu Sans"}
}
}
